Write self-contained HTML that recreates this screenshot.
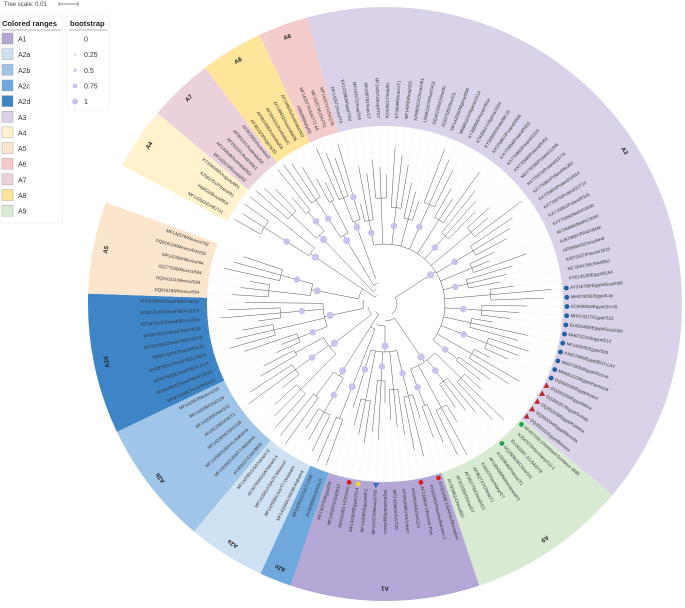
<!DOCTYPE html>
<html><head><meta charset="utf-8">
<style>
html,body{margin:0;padding:0;background:#fff;}
svg{display:block;font-family:"Liberation Sans",sans-serif;}
</style></head>
<body>
<svg id="chart" width="685" height="608" viewBox="0 0 685 608" xmlns="http://www.w3.org/2000/svg">
<g id="bands"></g>
<g id="guides"></g>
<g id="tree"></g>
<g id="boots"></g>
<g id="labels"></g>
<g id="marks"></g>
<g id="cladelabels"></g>

<g>
  <text x="4" y="6" font-size="6" fill="#444">Tree scale: 0.01</text>
  <line x1="59" y1="4" x2="78" y2="4" stroke="#666" stroke-width="0.7"/>
  <line x1="59" y1="2" x2="59" y2="6" stroke="#666" stroke-width="0.7"/>
  <line x1="78" y1="2" x2="78" y2="6" stroke="#666" stroke-width="0.7"/>
</g>
<g id="legend1">
  <rect x="0.5" y="16" width="62" height="207" fill="#fff" stroke="#eee" stroke-width="0.7"/>
  <text x="2" y="26" font-size="7.5" font-weight="bold" fill="#222">Colored ranges</text>
  <line x1="2" y1="30" x2="61" y2="30" stroke="#999" stroke-width="0.8"/>
</g>
<g id="legend2">
  <rect x="67" y="16" width="42" height="94" fill="#fff" stroke="#eee" stroke-width="0.7"/>
  <text x="70" y="26" font-size="7.5" font-weight="bold" fill="#222">bootstrap</text>
  <line x1="69" y1="30" x2="107" y2="30" stroke="#999" stroke-width="0.8"/>
</g>
</svg>
<script>
// ---- data ----
const clades = ['A3','A9','A1','A2c','A2a','A2b','A2d','A5','A4','A7','A8','A6'];
const cladeStart = [254.8, 40, 71.5, 108.5, 114.8, 130, 154.5, 182, 207.8, 220, 232.7, 245];
const cladeEnd   = [400, 71.5, 108.5, 114.8, 130, 154.5, 182, 200, 220, 232.7, 245, 254.8];
const cladeColors = ['#d9d2e9','#d9ead3','#b4a7d6','#6fa8dc','#cfe2f3','#9fc5e8','#3d85c6','#fce5cd','#fff2cc','#ead1dc','#ffe599','#f4cccc'];
const legendNames = ['A1','A2a','A2b','A2c','A2d','A3','A4','A5','A6','A7','A8','A9'];
const legendColors = ['#b4a7d6','#cfe2f3','#9fc5e8','#6fa8dc','#3d85c6','#d9d2e9','#fff2cc','#fce5cd','#f4cccc','#ead1dc','#ffe599','#d9ead3'];
const bootValues = [0, 0.25, 0.5, 0.75, 1];
const leafNames = [
 // A3
 ['MF142571/Iran/ITA','KX1229905/Italy/ITA2','MF142572/Iraq/254','MK190762/Iran/1T','MF142573/Italy/ITA7','KX426017/Italy/51','KT380895/Iran/1T1','MF142583/Iraq/425','KP986922/China/HB1','LN881187/FRA/ITA11','GQ451330/China/SL','JQ327585/Slov/OL','MF142580/Nigeria/E86','MN881115/Algeria/1514','KY385955/Hunan/Bisk','KT639617/Algeria/1554','KY363845/India/98-16','KX379867/Poland/5506','KX775984/Poland/5915','KX775980/Poland/1515','KX775988/Poland/5452','MG779298/Poland/11546','KX775979/Poland/33774','KX775960/Poland/BuJ63','KX775983/Poland/18914','KX775976/Poland/21713','KX775981/Poland/0101','KX775984/Neth/C0040','AF240686/Neth/C0040','AJ579897/FRA/CEMK','AF059643/China/HH6','AJ973327/France/2015','NC 004178/USA/6901','KY014528/Egypt/0154','AY318768/Egypt/Giza2006','MH079293/Egypt/Lay','KC905804/Egypt/SV-05','MH073217/Egypt/S15','EU584489/Egypt/Giza2008','MH073215/Egypt/S13','MF142545/Egypt/S05','KX827980/Egypt/EGY-LAY','MH073555/Egypt/Giza-ib','MN651223/Egypt/Hamra18','DQ350205/Egypt/Assiut','DQ350206/Egypt/Minia','DQ350207/Egypt/Sohag','DQ350208/Egypt/Kaliobia','DQ350204/Egypt/Menofia','DQ350211/Egypt/Beheira'],
 // A9
 ['AF457104.1/Hubbard Gumboro 2086','KJ547070/Germany/CU-1','EU162087.1/USA/D78','DQ355819/China/VI1','AJ319646/France/T1','AF194428/Netherlands/P2','X16107/Germany/CT','AF362747/China/ZJ','AF362776/China/HZ2','AF321055/China/GT','AY323952/China/B87'],
 // A1
 ['KY321488.1/GA/Vac/Bursaplex','AY323953/Vaccine/Bursine-2','AF133904.1/Bursine Plus','AY029166/USA/GLS','AF091098/USA/Lukert','MF142560/USA/T20','DQ916206/Egypt/vac1','MF142579/Mexico/792','MF142583/Egypt/MF2','MF142564/Egypt/2014','MAS31901 UCE/VAC','MF142587/USA/3012','MF142575/Egypt/09'],
 // A2c
 ['AY393885/USA/GLS','MF142541/USA/T Chilli'],
 // A2a
 ['MF142589/USA/58 Alabama','MF142588/USA/T7 Delaware','MF142581/USA/70 Missouri','AF367904/USA/Variant A','MF142591/USA/Variant E'],
 // A2b
 ['AY462027/USA/9530','MF142592/USA/T7 Alabama','MF142585/USA/41 Alabama','MF142584/USA/1220','AF281238/USA/T1','MF142590/USA/132','MF142586/USA/116','MF142587/Mexico/205'],
 // A2d
 ['MH879129/China/SHG202','MT087562/China/FBDV-SD19','MT097550/China/FBDV-1519','MT087551/China/FBDV-SD19','MH879124/China/SHG120','MT097549/China/FBDV-SD19','MT087562/China/FBDV-3519','MT087563/China/FBDV-SD16','MT087548/China/FBDV-SD19','MT087560/China/FBDV-SD19'],
 // A5
 ['DQ916189/Mexico/584','DQ916211/Mexico/584','JQ277030/Mexico/594','MF142585/Mexico/94','DQ916216/Mexico/DM155','MF142578/Mexico/792'],
 // A4
 ['MF142565/UAE/741','X66822/Brazil/804','AJ583751/Poland/91','KT334048/Uruguay/801'],
 // A7
 ['MF142578/Russia/52','AF140848/Australia/002','AF262031/Australia/1','AF091141/Australia/02','AF361092/Australia/2'],
 // A8
 ['AF381023/Nigeria/25','AF091098/Australia/06','AF194421/Australia/C','AF148632/Australia/06','AF148635/Australia/002'],
 // A6
 ['X96699/Italy/06','MF142577/USA/772.4A','MF142574/USA/751','MF142571/USA/276']
];
// markers: clade index, leaf index, type
const markerClade = [0,0,0,0,0,0,0,0,0,0,0, 0,0,0,0,0, 1,1, 2,2,2,2,2];
const markerLeaf  = [34,35,36,37,38,39,40,41,42,43,44, 45,46,47,48,49, 0,3, 0,2,7,9,10];
const markerType  = ['b','b','b','b','b','b','b','b','b','b','b','t','t','t','t','t','g','g','r','r','bt','y','r'];

// ---- layout ----
const NS='http://www.w3.org/2000/svg';
const cx=385, cy=304, rIn=178, rOut=297;
function ang(a){return a*Math.PI/180;}
function px(r,a){return [cx+r*Math.cos(ang(a)), cy+r*Math.sin(ang(a))];}
function mk(tag,attrs,parent){const e=document.createElementNS(NS,tag);for(const k in attrs)e.setAttribute(k,attrs[k]);parent.appendChild(e);return e;}
function arcPath(r,a1,a2){const p1=px(r,a1),p2=px(r,a2);const large=(a2-a1)>180?1:0;return `M${p1[0]},${p1[1]} A${r},${r} 0 ${large} 1 ${p2[0]},${p2[1]}`;}
const G=id=>document.getElementById(id);

// bands
clades.forEach((c,i)=>{
  const a1=cladeStart[i],a2=cladeEnd[i];
  const o1=px(rOut,a1),o2=px(rOut,a2),i1=px(rIn,a1),i2=px(rIn,a2);
  const large=(a2-a1)>180?1:0;
  const d=`M${i1[0]},${i1[1]} L${o1[0]},${o1[1]} A${rOut},${rOut} 0 ${large} 1 ${o2[0]},${o2[1]} L${i2[0]},${i2[1]} A${rIn},${rIn} 0 ${large} 0 ${i1[0]},${i1[1]} Z`;
  const p=mk('path',{d:d,fill:cladeColors[i]},G('bands'));
  
  
  // clade label
  const mid=(a1+a2)/2, lp=px(284,mid);
  const t=mk('text',{x:lp[0],y:lp[1],'font-size':6,'font-weight':'bold','fill':'#222','text-anchor':'middle','dominant-baseline':'middle',transform:`rotate(${mid+90} ${lp[0]} ${lp[1]})`},G('cladelabels'));
  t.textContent=c;
  
  
});

// leaves + tree
const cladeNodeR=[60,70,48,95,85,70,62,75,90,95,80,88];
const leafAngles=[];
let gi=0;
const backboneAngles=[];
clades.forEach((c,ci)=>{
  const names=leafNames[ci], n=names.length;
  const a1=cladeStart[ci],a2=cladeEnd[ci],step=(a2-a1)/n;
  const angs=names.map((_,k)=>a1+step*(k+0.5));
  leafAngles.push(angs);
  const rc=cladeNodeR[ci];
  // group leaves in subgroups of 3
  const subAngles=[];
  for(let s=0;s<n;s+=3){
    const grp=angs.slice(s,s+3);
    const sa=(grp[0]+grp[grp.length-1])/2;
    const rs=rc+25+((s*7+ci*11)%30);
    subAngles.push(sa);
    if(grp.length>1){const ap=mk('path',{d:arcPath(rs,grp[0],grp[grp.length-1]),fill:'none',stroke:'#555','stroke-width':0.5},G('tree'));}
    mk('path',{d:`M${px(rc,sa)} L${px(rs,sa)}`,stroke:'#555','stroke-width':0.5,fill:'none'},G('tree'));
    if((s/3+ci)%2===0){const bp=px((rc+rs)/2,sa);const b=mk('circle',{cx:bp[0],cy:bp[1],r:3.3,fill:'#c9c3ee'},G('boots'));}
    grp.forEach((a,k)=>{
      const tip=rs+18+(((gi+k)*37)%45);
      const tipR=Math.min(tip,172);
      mk('path',{d:`M${px(rs,a)} L${px(tipR,a)}`,stroke:'#555','stroke-width':0.5,fill:'none'},G('tree'));
      mk('path',{d:`M${px(tipR,a)} L${px(rIn+2,a)}`,stroke:'#d8d8d8','stroke-width':0.4,'stroke-dasharray':'1,1',fill:'none'},G('guides'));
    });
    gi+=grp.length;
  }
  if(subAngles.length>1) mk('path',{d:arcPath(rc,subAngles[0],subAngles[subAngles.length-1]),fill:'none',stroke:'#555','stroke-width':0.5},G('tree'));
  const ma=(a1+a2)/2;
  backboneAngles.push(ma);
  mk('path',{d:`M${px(12+(ci%4)*5,ma)} L${px(rc,ma)}`,stroke:'#555','stroke-width':0.5,fill:'none'},G('tree'));
  const bp=px(rc-6,ma);
  const b=mk('circle',{cx:bp[0],cy:bp[1],r:3.6,fill:'#c9c3ee'},G('boots'));
  
  
  // labels
  names.forEach((nm,k)=>{
    let a=angs[k]; let an=((a%360)+360)%360;
    const flip=an>90&&an<270;
    const p=px(rIn+8,a);
    const t=mk('text',{x:p[0],y:p[1],'font-size':4.4,fill:'#333','dominant-baseline':'middle','text-anchor':flip?'end':'start',transform:`rotate(${flip?an+180:an} ${p[0]} ${p[1]})`},G('labels'));
    t.textContent=nm;
    
    
  });
});
// central backbone arcs
for(let i=0;i<backboneAngles.length-1;i++){
  mk('path',{d:arcPath(12+(i%4)*5,backboneAngles[i]-360*(backboneAngles[i]>backboneAngles[i+1]?1:0),backboneAngles[i+1]),fill:'none',stroke:'#555','stroke-width':0.5},G('tree'));
}

// markers
markerClade.forEach((ci,m)=>{
  const a=leafAngles[ci][markerLeaf[m]];
  const p=px(rIn+4,a);
  const ty=markerType[m];
  let e;
  if(ty==='t'||ty==='bt'){
    const s=2.6, q1=px(rIn+4-s,a-1.0), q2=px(rIn+4-s,a+1.0), q3=px(rIn+4+s,a);
    e=mk('polygon',{points:`${q1} ${q2} ${q3}`,fill:ty==='t'?'#c0282b':'#2f6db5'},G('marks'));
  } else {
    const col={b:'#1f5fa6',g:'#23a35a',r:'#d91e1e',y:'#f1d63a'}[ty];
    e=mk('circle',{cx:p[0],cy:p[1],r:2.4,fill:col},G('marks'));
  }
  
  
});

// legends
legendNames.forEach((n,i)=>{
  const y=39+i*15.65;
  const r=mk('rect',{x:2,y:y-6,width:11,height:11,fill:legendColors[i],stroke:'#999','stroke-width':0.4},G('legend1'));
  
  
  const t=mk('text',{x:18,y:y+2.5,'font-size':7,fill:'#333'},G('legend1'));
  t.textContent=n;
  
  
});
bootValues.forEach((v,i)=>{
  const y=39+i*15.65;
  if(v>0){const c=mk('circle',{cx:75,cy:y,r:0.4+v*2.6,fill:'#c9c3ee'},G('legend2'));
    
    }
  const t=mk('text',{x:v===1?84:84,y:y+2.5,'font-size':7,fill:'#333'},G('legend2'));
  t.textContent=String(v);
  
  
});
</script>
</body></html>
